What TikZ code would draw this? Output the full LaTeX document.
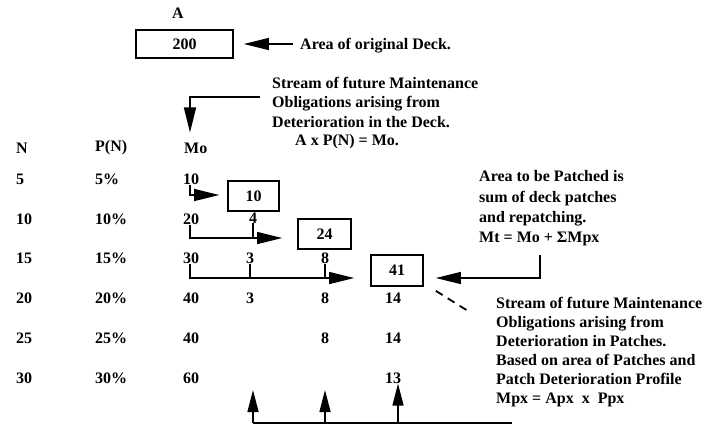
\documentclass[tikz,border=0pt]{standalone}
\usepackage{fontspec}
\setmainfont{Liberation Serif}
\usetikzlibrary{arrows.meta,calc}
\begin{document}
\begin{tikzpicture}[x=1pt,y=-1pt,
  every node/.style={font=\fontsize{16}{19.5}\selectfont\bfseries, inner sep=0pt},
  txt/.style={anchor=west, align=left},
  val/.style={anchor=west},
  cval/.style={anchor=center},
  bx/.style={draw, line width=1.7pt},
  conn/.style={line width=1.4pt},
  arr/.style={conn, -{Triangle[length=25pt,width=12pt]}},
  uparr/.style={conn, -{Triangle[length=22pt,width=11pt]}}]
\useasboundingbox (0,0) rectangle (706,429);
% top
\node (A) at (178,13) {A};
\node[bx, minimum width=97pt, minimum height=28pt] (b200) at (184.5,44) {200};
\node[txt] (orig) at (300,46) {Area of original Deck.};
\draw[arr, shorten >=10pt] ($(orig.west)+(-7,-2)$) -- (b200.east |- 0,44);
\node[txt] (stream) at (272,102) {Stream of future Maintenance\\Obligations arising from\\Deterioration in the Deck.};
\node[txt] (formula) at (295,142) {A x P(N) = Mo.};
% headers
\node[val] (hN) at (16,148) {N};
\node[val] (hP) at (95,148) {P(N)};
\node[val] (hM) at (184,148) {Mo};
\draw[arr, shorten >=10pt] ($(stream.west)+(-12,-5)$) -| (hM.north -| 190,0);
% rows
\foreach \n/\y in {5/179,10/219,15/258,20/298,25/338,30/378}{
  \node[val] (n\n) at (16,\y) {\n};
  \node[val] (p\n) at (95,\y) {\n\%};
}
\node[val] (m5) at (183,179) {10};
\node[val] (m10) at (183,219) {20};
\node[val] (m15) at (183,258) {30};
\node[val] (m20) at (183,298) {40};
\node[val] (m25) at (183,338) {40};
\node[val] (m30) at (183,378) {60};
\node[cval] (c2r10) at (253,218) {4};
\node[cval] (c2r15) at (250,258) {3};
\node[cval] (c2r20) at (250,298) {3};
\node[cval] (c3r15) at (325,258) {8};
\node[cval] (c3r20) at (325,298) {8};
\node[cval] (c3r25) at (325,338) {8};
\node[cval] (c4r20) at (393,298) {14};
\node[cval] (c4r25) at (393,338) {14};
\node[cval] (c4r30) at (393,378) {13};
% boxes
\node[bx, minimum width=51pt, minimum height=30pt] (b10) at (253.5,196) {10};
\node[bx, minimum width=53pt, minimum height=30pt] (b24) at (324.5,234) {24};
\node[bx, minimum width=52pt, minimum height=31pt] (b41) at (397,270.5) {41};
% feeding arrows
\coordinate (t1) at (190,195);
\coordinate (t2) at (190,238);
\coordinate (t3) at (190,278);
\draw[arr, shorten >=8pt] (m5.south -| t1) -- (t1) -- (t1 -| b10.west);
\draw[arr, shorten >=15pt] (m10.south -| t2) -- (t2) -- (t2 -| b24.west);
\draw[conn] (c2r10.south) -- (c2r10.south |- t2);
\draw[arr, shorten >=16pt] (m15.south -| t3) -- (t3) -- (t3 -| b41.west);
\draw[conn] (c2r15.south) -- (c2r15.south |- t3);
\draw[conn] (c3r15.south) -- (c3r15.south |- t3);
% right side
\node[txt, font=\fontsize{16}{20.3}\selectfont\bfseries] (area) at (479,208.5) {Area to be Patched is\\sum of deck patches\\and repatching.\\Mt = Mo + ΣMpx};
\coordinate (ac) at (540,255);
\draw[arr, shorten >=12pt] (ac) -- (ac |- 0,278) -- (b41.east |- 0,278);
\node[txt, font=\fontsize{16}{19}\selectfont\bfseries] (patch) at (496,352.5) {Stream of future Maintenance\\Obligations arising from\\Deterioration in Patches.\\Based on area of Patches and\\Patch Deterioration Profile\\Mpx = Apx\ \ x\ \ Ppx};
\coordinate (dashend) at (468,311);
\draw[line width=1.8pt, dash pattern=on 8pt off 6pt] ($(b41.south east)+(12,4)$) -- (dashend);
% bottom
\coordinate (bl) at (253,423);
\coordinate (br) at (512,423);
\draw[conn] (bl) -- (br);
\draw[uparr] (bl) -- (253,390);
\draw[uparr] (325,423) -- (325,390);
\draw[uparr] (398,423) -- (c4r30.south -| 398,0);
\end{tikzpicture}
\end{document}
